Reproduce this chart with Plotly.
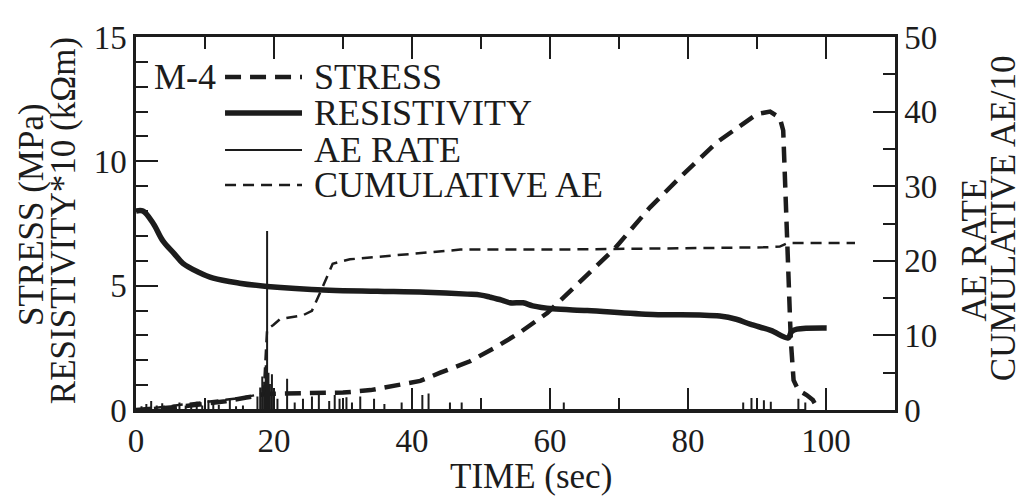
import plotly.graph_objects as go

# ---------------- data ----------------
stress_t = [0, 3, 6, 10, 13, 16, 19, 25, 30, 34, 37, 41.2, 44.1, 48.4, 52.3, 55.7,
            59.6, 61.9, 65.6, 69.4, 74.5, 79.3, 84.2, 87.1, 90, 91.9, 93.3, 93.8,
            94.1, 94.5, 94.9, 95.3, 96, 97.2, 98.1, 98.8]
stress_v = [0, 0.05, 0.12, 0.25, 0.35, 0.5, 0.65, 0.68, 0.7, 0.8, 0.95, 1.17, 1.5,
            1.96, 2.55, 3.13, 3.9, 4.5, 5.45, 6.5, 8.15, 9.48, 10.77, 11.36, 11.9,
            12.0, 11.75, 11.24, 8.6, 5.3, 2.8, 1.2, 0.8, 0.6, 0.4, 0.05]

resist_t = [0, 1, 2.5, 3.9, 5.5, 6.8, 9, 11.2, 15, 19, 28, 35, 42, 48, 50, 51.3, 53,
            54.2, 56.1, 57.5, 60.4, 65.4, 74.9, 81.7, 84.6, 87, 89, 92, 94.5, 95.0,
            95.8, 100.1]
resist_v = [8.0, 8.0, 7.5, 6.8, 6.3, 5.9, 5.55, 5.3, 5.1, 4.97, 4.82, 4.78, 4.74,
            4.66, 4.62, 4.54, 4.42, 4.31, 4.31, 4.19, 4.07, 4.0, 3.84, 3.82, 3.78,
            3.65, 3.45, 3.2, 2.9, 3.15, 3.25, 3.3]

ae_t = [0.8, 1.5, 2.2, 3.0, 3.8, 4.5, 5.5, 6.3, 7.2, 8.0, 8.8, 9.6, 10.5, 11.2, 12.0,
        13.6, 14.5, 15.5, 17.6, 18.0, 18.3, 18.6, 18.8, 19.0, 19.2, 19.4, 19.7, 20.0,
        20.5, 21.9, 23.0, 24.2, 25.5, 26.5, 28.0, 28.8, 29.5, 30.5, 31.3, 32.5, 34.5,
        36.0, 38.5, 41.5, 42.4, 45.5, 47.2, 62.0, 88.0, 89.2, 90.0, 91.0, 92.0, 96.0,
        97.0]
ae_v = [0.5, 0.8, 1.2, 0.6, 0.9, 0.5, 0.7, 1.0, 0.6, 0.8, 1.1, 0.6, 1.3, 0.9, 0.7,
        1.4, 0.5, 0.6, 1.8, 3.0, 4.5, 3.8, 6.0, 24.0, 5.0, 3.5, 4.8, 2.5, 1.5, 4.2,
        1.0, 1.5, 1.8, 2.0, 1.2, 2.0, 1.5, 1.7, 1.0, 1.8, 1.5, 0.8, 1.0, 2.0, 2.2, 1.0,
        1.0, 1.0, 1.0, 1.6, 0.8, 1.3, 1.1, 1.5, 1.0]

cum_t = [0, 5, 10, 15, 18.5, 19.0, 19.9, 20.9, 24.2, 25.5, 27.1, 28.5, 31, 35.8, 42.6,
         47, 60, 84.6, 90.9, 93.3, 94.0, 94.5, 104.2]
cum_v = [0, 0.5, 1.0, 1.6, 2.2, 10.8, 11.4, 12.2, 12.7, 13.3, 16.6, 19.6, 20.2, 20.6,
         21.1, 21.5, 21.5, 21.7, 21.8, 21.9, 22.2, 22.4, 22.4]

x_ticks = [0, 20, 40, 60, 80, 100]
y_ticks = [0, 5, 10, 15]
y2_ticks = [0, 10, 20, 30, 40, 50]
legend_names = ["STRESS", "RESISTIVITY", "AE RATE", "CUMULATIVE AE"]

# ---------------- styles ----------------
INK = "#1c1c1c"
FONT = "Liberation Serif"
styles = [dict(width=4.5, dash="16px,9px"),
          dict(width=5.5, dash="solid"),
          dict(width=2, dash="solid"),
          dict(width=2.5, dash="11px,7px")]

# spikes for AE rate: baseline - peak - baseline
spk_x, spk_y = [], []
for t, v in zip(ae_t, ae_v):
    spk_x += [t, t, t]
    spk_y += [0, v, 0]

fig = go.Figure()
fig.add_trace(go.Scatter(x=spk_x, y=spk_y, mode="lines", yaxis="y2",
                         line=dict(color=INK, **styles[2]), name=legend_names[2]))
fig.add_trace(go.Scatter(x=cum_t, y=cum_v, mode="lines", yaxis="y2",
                         line=dict(color=INK, **styles[3]), name=legend_names[3]))
fig.add_trace(go.Scatter(x=resist_t, y=resist_v, mode="lines", line_shape="spline",
                         line=dict(color=INK, **styles[1]), name=legend_names[1]))
fig.add_trace(go.Scatter(x=stress_t, y=stress_v, mode="lines",
                         line=dict(color=INK, **styles[0]), name=legend_names[0]))

axis_common = dict(showgrid=False, zeroline=False, showline=True, linecolor=INK,
                   linewidth=2.5, ticks="inside", ticklen=22, tickwidth=2,
                   tickcolor=INK, tickfont=dict(family=FONT, size=33, color=INK))

# the page adds an 8px body margin, so the figure is offset by 8px
fig.update_layout(
    width=1018, height=491,
    margin=dict(l=128, r=131, t=19, b=89),
    plot_bgcolor="white", paper_bgcolor="white",
    showlegend=False,
    font=dict(family=FONT, size=33, color=INK),
    xaxis=dict(range=[0, 110], tickvals=x_ticks, mirror="ticks",
               minor=dict(dtick=10, tick0=0, ticks="inside", ticklen=12, tickwidth=2,
                          tickcolor=INK),
               **axis_common),
    yaxis=dict(range=[0, 15], tickvals=y_ticks, mirror=True,
               minor=dict(dtick=1, tick0=0, ticks="inside", ticklen=12, tickwidth=2,
                          tickcolor=INK),
               **axis_common),
    yaxis2=dict(range=[0, 50], tickvals=y2_ticks, overlaying="y", side="right",
                minor=dict(dtick=5, tick0=0, ticks="inside", ticklen=12, tickwidth=2,
                           tickcolor=INK),
                **axis_common),
)

# ---------------- axis titles ----------------
def ann(text, x, y, angle=0, xanchor="center", size=34):
    fig.add_annotation(text=text, x=x, y=y, xref="paper", yref="paper",
                       showarrow=False, textangle=angle, xanchor=xanchor,
                       yanchor="middle", font=dict(family=FONT, size=size, color=INK))

ann("TIME (sec)", 0.52, -0.178, size=35)
ann("STRESS (MPa)", -0.1385, 0.525, angle=-90, size=35)
ann("RESISTIVITY*10 (kΩm)", -0.0945, 0.507, angle=-90, size=35)
ann("AE RATE", 1.1054, 0.43, angle=-90, size=35)
ann("CUMULATIVE AE/10", 1.1423, 0.514, angle=-90, size=35)

# ---------------- legend ----------------
ann("M-4", 0.108, 0.893, xanchor="right", size=36)
leg_y = [0.893, 0.796, 0.697, 0.603]
for name, st, ly in zip(legend_names, styles, leg_y):
    fig.add_shape(type="line", xref="paper", yref="paper", x0=0.1173, x1=0.2187,
                  y0=ly, y1=ly, line=dict(color=INK, width=st["width"], dash=st["dash"]))
    ann(name, 0.2319, ly, xanchor="left", size=36)

fig.write_html("out.html")
